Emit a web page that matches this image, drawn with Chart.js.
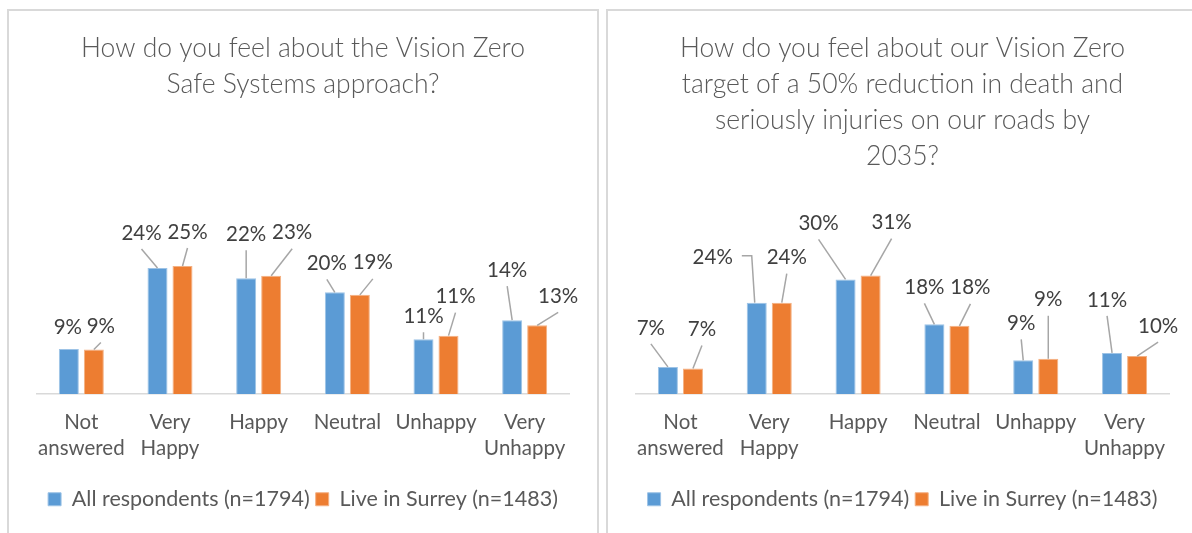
<!DOCTYPE html>
<html>
<head>
<meta charset="utf-8">
<script src="https://cdn.jsdelivr.net/npm/chart.js@4.4.1/dist/chart.umd.min.js"></script>
<style>
  body { margin: 0; background: #fff; overflow: hidden; width: 1192px; height: 533px; position: relative; }
  .box { position: absolute; top: 9px; height: 560px; border: 2px solid #d9d9d9; box-sizing: border-box; }
  .box canvas { position: absolute; left: 0; top: 0; }
</style>
</head>
<body>
<div class="box" style="left:7px; width:592px;"><canvas id="approachChart" width="588" height="520"></canvas></div>
<div class="box" style="left:606px; width:593px;"><canvas id="targetChart" width="589" height="520"></canvas></div>
<script>
// categories and series
const categories = [['Not', 'answered'], ['Very', 'Happy'], ['Happy'], ['Neutral'], ['Unhappy'], ['Very', 'Unhappy']];
const seriesNames = ['All respondents (n=1794)', 'Live in Surrey (n=1483)'];

// chart 1: Safe Systems approach (% of respondents)
const approachAll = [8.7, 24.4, 22.4, 19.7, 10.6, 14.3];
const approachSurrey = [8.6, 24.8, 22.9, 19.2, 11.3, 13.3];

// chart 2: 50% reduction target (% of respondents)
const targetAll = [7.0, 23.6, 29.6, 18.0, 8.7, 10.6];
const targetSurrey = [6.6, 23.6, 30.6, 17.6, 9.1, 9.8];

const approachTitle = ['How do you feel about the Vision Zero', 'Safe Systems approach?'];
const targetTitle = ['How do you feel about our Vision Zero', 'target of a 50% reduction in death and',
  'seriously injuries on our roads by', '2035?'];

// where the data labels were dragged to (px from the bar top), per series
const approachLabelPos = [
  [[-1, -22], [-16, -35], [0, -44], [-8, -29], [0, -23], [-5, -50]],
  [[7, -23], [5, -34], [21, -43], [13, -32], [7, -39], [21, -29]]
];
const targetLabelPos = [
  [[-17, -39], [-44, -45], [-27, -56], [-10, -37], [-2, -37], [-5, -53]],
  [[9, -39], [5, -45], [21, -53], [11, -38], [0, -59], [21, -30]]
];

const blue = '#5b9bd5';
const orange = '#ed7d31';
const fontFamily = 'Lato, "Liberation Sans", sans-serif';

// draws the % labels with Excel style leader lines
const dataLabels = {
  id: 'dataLabels',
  afterDatasetsDraw(chart) {
    const ctx = chart.ctx;
    const pos = chart.options.plugins.dataLabels.pos;
    ctx.save();
    ctx.font = '20.5px ' + fontFamily;
    ctx.textAlign = 'center';
    ctx.textBaseline = 'middle';
    chart.data.datasets.forEach((ds, d) => {
      chart.getDatasetMeta(d).data.forEach((bar, i) => {
        const text = Math.round(ds.data[i]) + '%';
        const lx = bar.x + pos[d][i][0];
        const ly = bar.y + pos[d][i][1];
        const half = ctx.measureText(text).width / 2;
        ctx.strokeStyle = '#a6a6a6';
        ctx.lineWidth = 1.5;
        if (Math.abs(lx - bar.x) > half + 14) {
          // label sits well to the side: elbow line
          const side = lx < bar.x ? 1 : -1;
          ctx.beginPath();
          ctx.moveTo(lx + side * (half + 9), ly - 2);
          ctx.lineTo(bar.x - side * 5, ly - 2);
          ctx.lineTo(bar.x - side * 2, bar.y);
          ctx.stroke();
        } else if (bar.y - (ly + 16) > 6) {
          ctx.beginPath();
          ctx.moveTo(lx, ly + 16);
          ctx.lineTo(bar.x, bar.y);
          ctx.stroke();
        }
        ctx.fillStyle = '#404040';
        ctx.fillText(text, lx, ly);
      });
    });
    ctx.restore();
  }
};

function makeChart(id, title, allData, surreyData, yMax, titleGap, labelPos) {
  return new Chart(document.getElementById(id), {
    type: 'bar',
    data: {
      labels: categories,
      datasets: [
        { label: seriesNames[0], data: allData, backgroundColor: blue, borderColor: '#9dc3e6', borderWidth: 1 },
        { label: seriesNames[1], data: surreyData, backgroundColor: orange, borderColor: '#f4b183', borderWidth: 1 }
      ]
    },
    options: {
      responsive: false,
      animation: false,
      categoryPercentage: 0.564,
      barPercentage: 0.8,
      layout: { padding: { left: 28, right: 28, top: 0, bottom: 11 } },
      plugins: {
        title: {
          display: true,
          text: title,
          color: '#595959',
          font: { family: fontFamily, size: 26.5, weight: 300, lineHeight: 1.36 },
          padding: { top: 19, bottom: titleGap }
        },
        legend: {
          position: 'bottom',
          labels: {
            color: '#595959',
            boxWidth: 13,
            boxHeight: 13,
            padding: 6,
            font: { family: fontFamily, size: 21.5 }
          }
        },
        tooltip: { enabled: false },
        dataLabels: { pos: labelPos }
      },
      scales: {
        x: {
          grid: { display: false, drawTicks: false },
          border: { display: true, color: '#d9d9d9', width: 1.5 },
          ticks: {
            color: '#595959',
            padding: 15,
            autoSkip: false,
            maxRotation: 0,
            minRotation: 0,
            font: { family: fontFamily, size: 20.5, lineHeight: 1.27 }
          },
          afterFit: (scale) => { scale.height = 88.5; }
        },
        y: { display: false, min: 0, max: yMax }
      }
    },
    plugins: [dataLabels]
  });
}

makeChart('approachChart', approachTitle, approachAll, approachSurrey, 30, 137, approachLabelPos);
makeChart('targetChart', targetTitle, targetAll, targetSurrey, 40, 65, targetLabelPos);
</script>
</body>
</html>
